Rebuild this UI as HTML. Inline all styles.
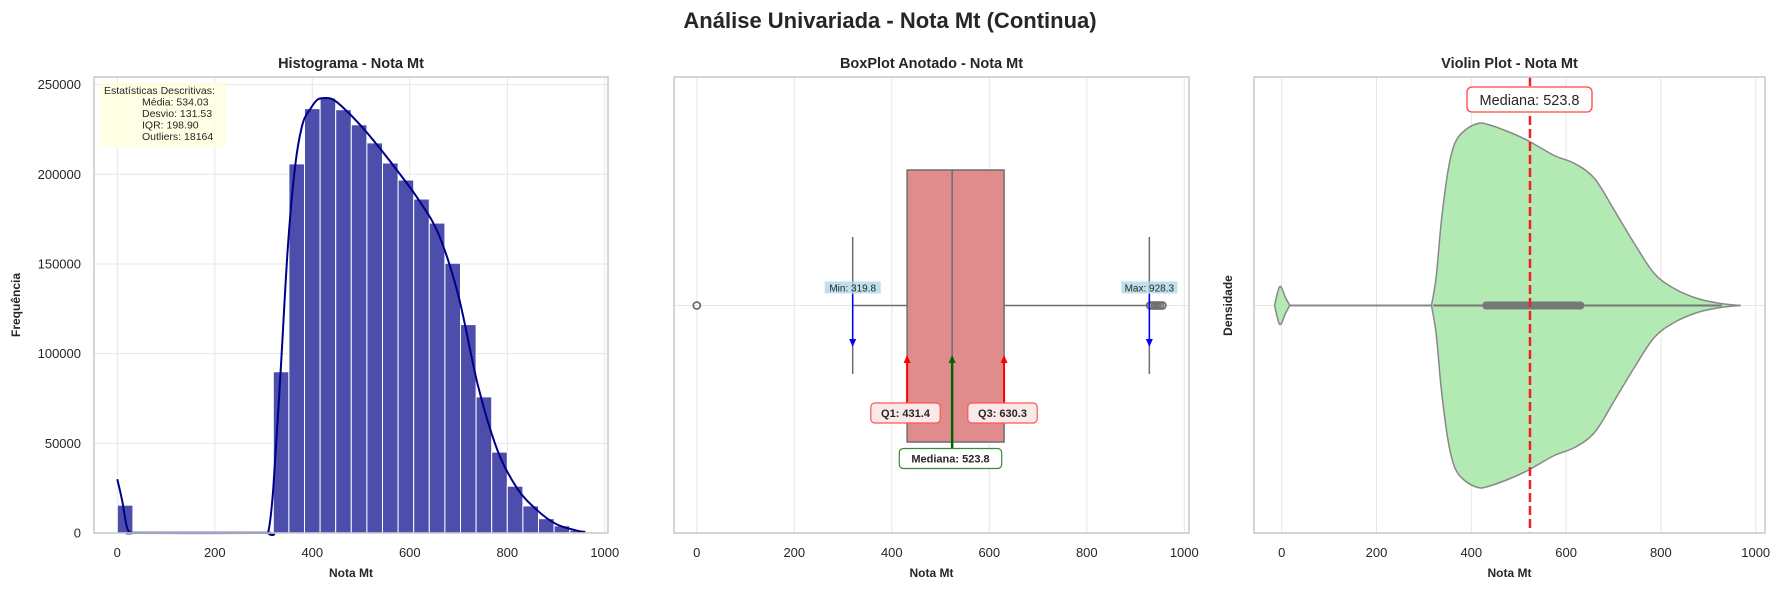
<!DOCTYPE html>
<html><head><meta charset="utf-8"><style>
html,body{margin:0;padding:0;background:#fff;}
svg{display:block;font-family:"Liberation Sans",sans-serif;}
</style></head><body>
<svg id="fig" width="1781" height="590" viewBox="0 0 1781 590" xmlns="http://www.w3.org/2000/svg">
<rect width="1781" height="590" fill="#fff"/>
<text x="890" y="28" text-anchor="middle" font-size="22" font-weight="bold" fill="#262626">Análise Univariada - Nota Mt (Continua)</text>
<g id="p1"></g>
<g id="p2"></g>
<g id="p3"></g>
</svg>
<script>
// ---- data ----
const histBinStart = 0;
const histBinWidth = 32;
const histCounts = [15500,0,0,0,0,0,0,0,0,0,89900,205800,236600,242500,236000,227600,217500,206300,196800,186200,172800,150400,116200,75900,45100,26100,15100,8000,4000,1500];
const kdeX = [0,10,20,30,40,300,310,320,335,350,365,380,395,410,425,440,460,500,540,580,620,660,700,740,780,820,860,900,940,960];
const kdeY = [30000,18000,3000,0,0,0,1000,25000,90000,160000,205000,228000,236000,241500,242500,242000,238000,227000,214000,200000,185000,166000,132000,82000,46000,25000,13000,5000,1500,500];
const xTicks = [0,200,400,600,800,1000];
const yTicksHist = [0,50000,100000,150000,200000,250000];
const statsLines = ["Média: 534.03","Desvio: 131.53","IQR: 198.90","Outliers: 18164"];
const boxQ1 = 431.4, boxMed = 523.8, boxQ3 = 630.3, boxMin = 319.8, boxMax = 928.3;
const outliers = [0, 930, 935, 940, 945, 950, 955];
const violinX = [-15,-4,8,17,316,326,337,351,365,386,414,435,477,519,575,618,660,702,744,786,828,877,926,968];
const violinW = [0,19,8,0,0,29,85,135,162,175,182,181,174,165,150,142,127,95,62,32,17,7,2,0];

const NS = "http://www.w3.org/2000/svg";
function mk(parent, tag, attrs){const e=document.createElementNS(NS,tag);for(const k in attrs)e.setAttribute(k,attrs[k]);parent.appendChild(e);return e;}
function txt(parent, s, attrs){const e=mk(parent,'text',attrs);e.textContent=s;return e;}

const TOP=77, BOT=533;
function panel(g, left, right, zeroPx, ppu, title){
  const sx = v => zeroPx + v*ppu;
  for(const t of xTicks){
    const l = mk(g,'line',{x1:sx(t),x2:sx(t),y1:TOP,y2:BOT,stroke:'#e6e6e6','stroke-width':1});
    
    
    const tl = txt(g,String(t),{x:sx(t),y:557,'text-anchor':'middle','font-size':13,fill:'#262626'});
    
    
  }
  const tt = txt(g,title,{x:(left+right)/2,y:68,'text-anchor':'middle','font-size':14.5,'font-weight':'bold',fill:'#262626'});
  
  
  const xl = txt(g,'Nota Mt',{x:(left+right)/2,y:577,'text-anchor':'middle','font-size':12,'font-weight':'bold',fill:'#262626'});
  
  
  return sx;
}
function frame(g,left,right){
  const f = mk(g,'rect',{x:left,y:TOP,width:right-left,height:BOT-TOP,fill:'none',stroke:'#cccccc','stroke-width':1.6});
  
  
}
function smoothPath(pts){
  let d='M'+pts[0][0]+','+pts[0][1];
  for(let i=0;i<pts.length-1;i++){
    const p0=pts[i-1]||pts[i],p1=pts[i],p2=pts[i+1],p3=pts[i+2]||p2;
    const c1=[p1[0]+(p2[0]-p0[0])/6,p1[1]+(p2[1]-p0[1])/6];
    const c2=[p2[0]-(p3[0]-p1[0])/6,p2[1]-(p3[1]-p1[1])/6];
    d+=' C'+c1[0]+','+c1[1]+' '+c2[0]+','+c2[1]+' '+p2[0]+','+p2[1];
  }
  return d;
}

// ---- panel 1: histogram ----
(function(){
  const g=document.getElementById('p1');
  const L=94,R=608;
  const sx=panel(g,L,R,117.3,0.4875,'Histograma - Nota Mt');
  const sy=v=>BOT - v*(BOT-84.6)/250000;
  for(const t of yTicksHist){
    const l=mk(g,'line',{x1:L,x2:R,y1:sy(t),y2:sy(t),stroke:'#e6e6e6','stroke-width':1});
    
    
    const tl=txt(g,String(t),{x:81,y:sy(t)+4.5,'text-anchor':'end','font-size':13,fill:'#262626'});
    
    
  }
  const yl=txt(g,'Frequência',{x:20,y:(TOP+BOT)/2,'text-anchor':'middle','font-size':12,'font-weight':'bold',fill:'#262626',transform:'rotate(-90 20 '+((TOP+BOT)/2)+')'});
  
  
  histCounts.forEach((c,i)=>{
    if(c<=0) return;
    const x0=sx(histBinStart+i*histBinWidth), x1=sx(histBinStart+(i+1)*histBinWidth);
    const b=mk(g,'rect',{x:x0,y:sy(c),width:x1-x0,height:BOT-sy(c),fill:'#4d4dab',stroke:'#fff','stroke-width':1});
    
    
  });
  const base=mk(g,'line',{x1:sx(30),x2:sx(315),y1:BOT-0.5,y2:BOT-0.5,stroke:'#00008b','stroke-width':1.5});
  
  
  const kp=mk(g,'path',{d:smoothPath(kdeX.map((x,i)=>[sx(x),sy(kdeY[i])])),fill:'none',stroke:'#00008b','stroke-width':2});
  
  
  const sb=mk(g,'rect',{x:99,y:82,width:127,height:65,rx:4,fill:'#ffffe0','fill-opacity':0.8});
  
  
  const s0=txt(g,'Estatísticas Descritivas:',{x:104,y:94,'font-size':10.5,fill:'#262626'});
  
  
  statsLines.forEach((s,i)=>{
    const t=txt(g,s,{x:142,y:105.5+i*11.5,'font-size':10.5,fill:'#262626'});
    
    
  });
  frame(g,L,R);
})();

// ---- panel 2: boxplot ----
(function(){
  const g=document.getElementById('p2');
  const L=674,R=1189, CY=305.5;
  const sx=panel(g,L,R,696.8,0.4875,'BoxPlot Anotado - Nota Mt');
  const gl=mk(g,'line',{x1:L,x2:R,y1:CY,y2:CY,stroke:'#e6e6e6','stroke-width':1});
  
  
  const w1=mk(g,'line',{x1:sx(boxMin),x2:sx(boxQ1),y1:CY,y2:CY,stroke:'#6e6e6e','stroke-width':1.5});
  
  
  const w2=mk(g,'line',{x1:sx(boxQ3),x2:sx(boxMax),y1:CY,y2:CY,stroke:'#6e6e6e','stroke-width':1.5});
  
  
  for(const v of [boxMin,boxMax]){
    const c=mk(g,'line',{x1:sx(v),x2:sx(v),y1:237,y2:374,stroke:'#6e6e6e','stroke-width':1.5});
    
    
  }
  const box=mk(g,'rect',{x:sx(boxQ1),y:170,width:sx(boxQ3)-sx(boxQ1),height:272,fill:'#e08b8c',stroke:'#6e6e6e','stroke-width':1.5});
  
  
  const md=mk(g,'line',{x1:sx(boxMed),x2:sx(boxMed),y1:170,y2:442,stroke:'#6e6e6e','stroke-width':1.5});
  
  
  for(const o of outliers){
    const c=mk(g,'circle',{cx:sx(o),cy:CY,r:3.5,fill:'none',stroke:'#6e6e6e','stroke-width':1.8});
    
    
  }
  function arrow(x,y1,y2,color,w,name){
    const dir=Math.sign(y2-y1);
    const l=mk(g,'line',{x1:x,x2:x,y1:y1,y2:y2-dir*5,stroke:color,'stroke-width':w});
    
    
    const h=mk(g,'polygon',{points:`${x},${y2} ${x-3.5},${y2-dir*8} ${x+3.5},${y2-dir*8}`,fill:color});
    
    
  }
  function label(cx,cy,s,fill,stroke,bold,fs,name){
    const wTxt=s.length*fs*(bold?0.6:0.55);
    const r=mk(g,'rect',{x:cx-wTxt/2-5,y:cy-10,width:wTxt+10,height:20,rx:4,fill:fill,stroke:stroke,'stroke-width':stroke==='none'?0:1.2});
    
    
    const t=txt(g,s,{x:cx,y:cy+fs*0.36,'text-anchor':'middle','font-size':fs,'font-weight':bold?'bold':'normal',fill:'#262626'});
    
    
  }
  arrow(sx(boxMin),294,347,'#0000ff',1.5,'min-arrow');
  arrow(sx(boxMax),294,347,'#0000ff',1.5,'max-arrow');
  arrow(sx(boxQ1),403,355,'#ff0000',2,'q1-arrow');
  arrow(sx(boxQ3),403,355,'#ff0000',2,'q3-arrow');
  arrow(sx(boxMed),449,355,'#006400',2.5,'median-arrow');
  // min/max small labels
  for(const [v,s,n] of [[boxMin,'Min: '+boxMin.toFixed(1),'min-label'],[boxMax,'Max: '+boxMax.toFixed(1),'max-label']]){
    const r=mk(g,'rect',{x:sx(v)-28,y:281.5,width:56,height:12,fill:'#add8e6','fill-opacity':0.8});
    
    
    const t=txt(g,s,{x:sx(v),y:291.5,'text-anchor':'middle','font-size':10,fill:'#262626'});
    
    
  }
  label(905.5,413,'Q1: '+boxQ1.toFixed(1),'#fbe9e9','#ff5555',true,11,'q1-label');
  label(1002.5,413,'Q3: '+boxQ3.toFixed(1),'#fbe9e9','#ff5555',true,11,'q3-label');
  label(950.5,458.5,'Mediana: '+boxMed.toFixed(1),'#ffffff','#3a8a3a',true,11,'median-label');
  frame(g,L,R);
})();

// ---- panel 3: violin ----
(function(){
  const g=document.getElementById('p3');
  const L=1254,R=1765, CY=305.5;
  const sx=panel(g,L,R,1281.7,0.474,'Violin Plot - Nota Mt');
  const gl=mk(g,'line',{x1:L,x2:R,y1:CY,y2:CY,stroke:'#e6e6e6','stroke-width':1});
  
  
  const yl=txt(g,'Densidade',{x:1232,y:CY,'text-anchor':'middle','font-size':12,'font-weight':'bold',fill:'#262626',transform:'rotate(-90 1232 '+CY+')'});
  
  
  const line=mk(g,'line',{x1:sx(violinX[0]),x2:sx(violinX[violinX.length-1]),y1:CY,y2:CY,stroke:'#888','stroke-width':2});
  
  
  // split into segments separated by zeros
  let segs=[],cur=[];
  violinX.forEach((x,i)=>{cur.push([x,violinW[i]]); if(violinW[i]===0 && cur.length>1){segs.push(cur);cur=[[x,0]];}});
  for(const s of segs){
    if(s.every(p=>p[1]===0)) continue;
    const top=s.map(p=>[sx(p[0]),CY-p[1]]);
    const bot=s.slice().reverse().map(p=>[sx(p[0]),CY+p[1]]);
    const d=smoothPath(top)+' L'+smoothPath(bot).slice(1)+' Z';
    const v=mk(g,'path',{d:d,fill:'#b3e9b3',stroke:'#888','stroke-width':1.5});
    
    
  }
  const wl=mk(g,'line',{x1:sx(boxMin),x2:sx(boxMax),y1:CY,y2:CY,stroke:'#777','stroke-width':2});
  
  
  const ib=mk(g,'line',{x1:sx(boxQ1),x2:sx(boxQ3),y1:CY,y2:CY,stroke:'#777','stroke-width':8,'stroke-linecap':'round'});
  
  
  const ml=mk(g,'line',{x1:sx(boxMed),x2:sx(boxMed),y1:TOP,y2:BOT,stroke:'#ee2222','stroke-width':2.5,'stroke-dasharray':'9,4'});
  
  
  const r=mk(g,'rect',{x:1467,y:87,width:125,height:25,rx:5,fill:'#fff',stroke:'#ff4444','stroke-width':1.3});
  
  
  const t=txt(g,'Mediana: '+boxMed.toFixed(1),{x:1529.5,y:105,'text-anchor':'middle','font-size':14.5,fill:'#262626'});
  
  
  frame(g,L,R);
})();
</script>
</body></html>
